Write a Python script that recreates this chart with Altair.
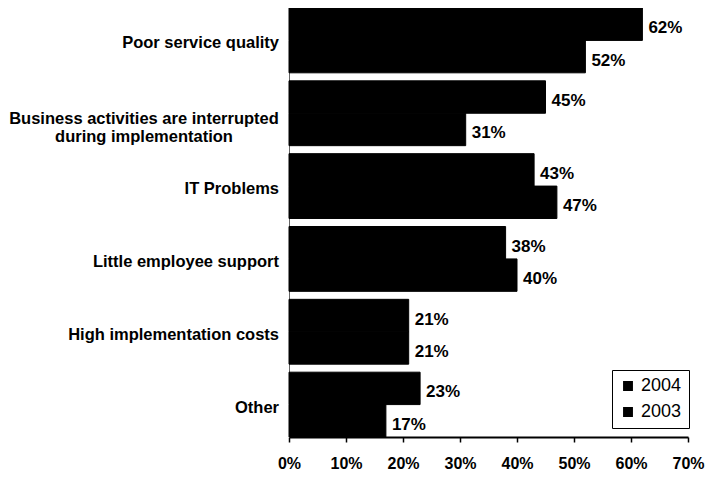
import altair as alt
import pandas as pd

categories = [
    "Poor service quality",
    "Business activities are interrupted|during implementation",
    "IT Problems",
    "Little employee support",
    "High implementation costs",
    "Other",
]
years = ["2004", "2003"]
values_2004 = [62, 45, 43, 38, 21, 23]
values_2003 = [52, 31, 47, 40, 21, 17]
tick_values = [0, 0.1, 0.2, 0.3, 0.4, 0.5, 0.6, 0.7]

rows = []
for c, a, b in zip(categories, values_2004, values_2003):
    rows.append({"category": c, "year": "2004", "value": a / 100})
    rows.append({"category": c, "year": "2003", "value": b / 100})
df = pd.DataFrame(rows)

single = pd.DataFrame({"category": [c for c in categories if "|" not in c]})
multi = pd.DataFrame({"category": [c for c in categories if "|" in c]})

FONT = "Liberation Sans"

y_enc = alt.Y(
    "category:N",
    sort=categories,
    scale=alt.Scale(paddingInner=0.11, paddingOuter=0.0),
    axis=alt.Axis(labels=False, ticks=False, title=None, domain=True,
                  domainColor="#666", domainWidth=1),
)
x_enc = alt.X(
    "value:Q",
    scale=alt.Scale(domain=[0, 0.7]),
    axis=alt.Axis(values=tick_values, format=".0%", grid=False, title=None,
                  domainColor="black", domainWidth=2, tickColor="black",
                  tickSize=5, tickWidth=1.5, labelFont=FONT, labelFontSize=16,
                  labelFontWeight="bold", labelColor="black", labelPadding=13,
                  labelFlush=False),
)

base = alt.Chart(df)

bars = base.mark_bar(color="black", stroke="black", strokeWidth=1).encode(
    y=y_enc,
    yOffset=alt.YOffset("year:N", sort=years),
    x=x_enc,
    color=alt.Color(
        "year:N",
        sort=years,
        scale=alt.Scale(domain=years, range=["black", "black"]),
        legend=alt.Legend(
            title=None, orient="none", legendX=323, legendY=362,
            strokeColor="black", fillColor="white", padding=7,
            symbolType="square", symbolSize=70, labelFont=FONT,
            labelFontSize=18, labelColor="black", rowPadding=8,
        ),
    ),
)

labels = base.mark_text(
    align="left", baseline="middle", dx=6, dy=4, font=FONT,
    fontSize=17, fontWeight="bold", color="black",
).encode(
    y=alt.Y("category:N", sort=categories),
    yOffset=alt.YOffset("year:N", sort=years),
    x="value:Q",
    text=alt.Text("value:Q", format=".0%"),
)

cat_single = alt.Chart(single).mark_text(
    align="right", baseline="middle", dy=3, font=FONT, fontSize=16.5,
    fontWeight="bold", color="black",
).encode(
    y=alt.Y("category:N", sort=categories),
    x=alt.value(-10),
    text="category:N",
)

cat_multi = alt.Chart(multi).mark_text(
    align="center", baseline="middle", dy=6, lineBreak="|", lineHeight=18,
    font=FONT, fontSize=16.5, fontWeight="bold", color="black",
).encode(
    y=alt.Y("category:N", sort=categories),
    x=alt.value(-145),
    text="category:N",
)

chart = (
    alt.layer(bars, labels, cat_single, cat_multi)
    .properties(
        width=399, height=429,
        autosize=alt.AutoSizeParams(type="none"),
        padding={"left": 281, "top": 0, "right": 17, "bottom": 44},
    )
    .configure_view(stroke=None)
)

chart.save("out.html", embed_options={"renderer": "svg", "actions": False})
